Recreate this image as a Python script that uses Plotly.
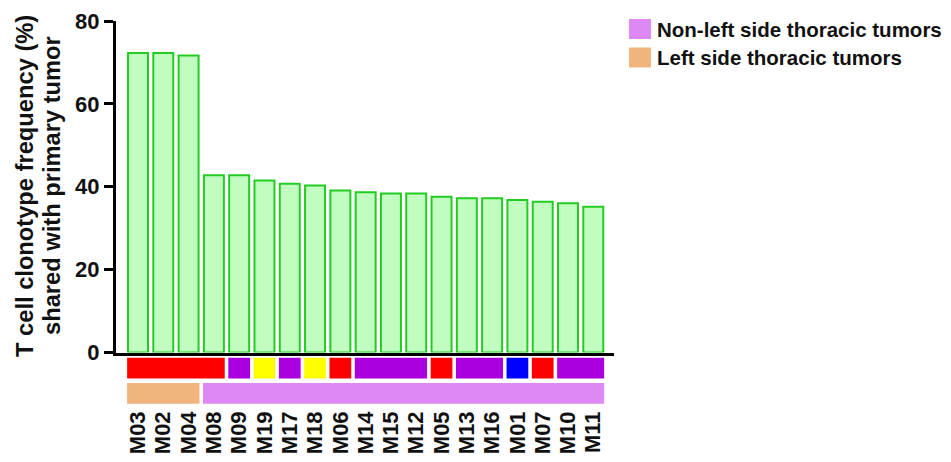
import plotly.graph_objects as go

# ---------------- data ----------------
samples = ["M03", "M02", "M04", "M08", "M09", "M19", "M17", "M18", "M06", "M14",
           "M15", "M12", "M05", "M13", "M16", "M01", "M07", "M10", "M11"]
shared_freq = [72.3, 72.3, 71.7, 42.8, 42.8, 41.5, 40.7, 40.3, 39.1, 38.7,
               38.4, 38.4, 37.6, 37.2, 37.2, 36.8, 36.4, 36.0, 35.2]
# top annotation row (sample group)
group_row = ["G1", "G1", "G1", "G1", "G2", "G3", "G2", "G3", "G1", "G2",
             "G2", "G2", "G1", "G2", "G2", "G4", "G1", "G2", "G2"]
# bottom annotation row (tumor location)
location_row = ["Left side thoracic tumors"] * 3 + ["Non-left side thoracic tumors"] * 16
legend_labels = ["Non-left side thoracic tumors", "Left side thoracic tumors"]
y_ticks = [0, 20, 40, 60, 80]

# ---------------- styles ----------------
group_colors = {"G1": "#ff0000", "G2": "#aa00dd", "G3": "#ffff00", "G4": "#0000ff"}
location_colors = {"Left side thoracic tumors": "#f0b47c",
                   "Non-left side thoracic tumors": "#dd88f5"}
FONT = "Liberation Sans, Arial, sans-serif"

OFF = 8  # page body margin
W, H = 951 - 2 * OFF, 462 - 2 * OFF
L, R_EDGE = 116 - OFF, 614 - OFF
T, B_EDGE = 21 - OFF, 406 - OFF
plot_h = B_EDGE - T
plot_w = R_EDGE - L
main_bottom_px = 352.5 - OFF
ann_top_px = 355.5 - OFF


def runs(vals):
    out = []
    start = 0
    for i in range(1, len(vals) + 1):
        if i == len(vals) or vals[i] != vals[start]:
            out.append((start, i - 1, vals[start]))
            start = i
    return out


fig = go.Figure()
idx = list(range(len(samples)))

fig.add_trace(go.Bar(
    x=idx, y=shared_freq, width=0.79,
    marker=dict(color="#c1fdc1", line=dict(color="#22cc22", width=2)),
    xaxis="x", yaxis="y", showlegend=False,
    hovertext=samples,
))

half = 0.43
for row_i, (vals, cmap) in enumerate([(location_row, location_colors), (group_row, group_colors)]):
    rr = runs(vals)
    xs = [(s + e) / 2 for s, e, _ in rr]
    ws = [(e - s) + 2 * half for s, e, _ in rr]
    cols = [cmap[v] for _, _, v in rr]
    fig.add_trace(go.Bar(
        x=xs, y=[0.82] * len(rr), base=[row_i + 0.09] * len(rr), width=ws,
        marker=dict(color=cols, line=dict(width=0)),
        xaxis="x2", yaxis="y2", showlegend=False,
        hovertext=[v for _, _, v in rr],
    ))

x_range = [(116 - 138) / 25.29, 18 + (614 - 593.3) / 25.29]

fig.update_layout(
    width=W, height=H,
    margin=dict(l=L, r=W - R_EDGE, t=T, b=H - B_EDGE, autoexpand=False),
    paper_bgcolor="white", plot_bgcolor="white",
    barmode="overlay",
    font=dict(family=FONT, color="#111111"),
    xaxis=dict(domain=[0, 1], range=x_range, anchor="y", showline=True, linecolor="#000000",
               linewidth=3, showticklabels=False, ticks="", showgrid=False, zeroline=False,
               fixedrange=True),
    yaxis=dict(domain=[(B_EDGE - main_bottom_px) / plot_h, 1], range=[0, 80], anchor="x",
               showline=True, linecolor="#000000", linewidth=3, ticks="outside", ticklen=9,
               tickwidth=3, tickcolor="#000000", tickvals=y_ticks, showgrid=False,
               zeroline=False, tickfont=dict(size=22, family=FONT, weight="bold", color="#111111")),
    xaxis2=dict(domain=[0, 1], matches="x", anchor="y2", showline=False, ticks="",
                tickvals=idx, ticktext=samples, tickangle=-90, showgrid=False, zeroline=False,
                tickfont=dict(size=22, family=FONT, weight="bold", color="#111111")),
    yaxis2=dict(domain=[0, (B_EDGE - ann_top_px) / plot_h], range=[0, 2], anchor="x2",
                showline=False, showticklabels=False, ticks="", showgrid=False, zeroline=False),
)


def px_x(p):
    return (p - OFF - L) / plot_w


def px_y(p):
    return (B_EDGE - (p - OFF)) / plot_h


# y-axis title as two rotated lines
for text, cx in [("T cell clonotype frequency (%)", 25), ("shared with primary tumor", 52)]:
    fig.add_annotation(text=text, xref="paper", yref="paper", x=px_x(cx), y=px_y(186),
                       xanchor="center", yanchor="middle", textangle=-90, showarrow=False,
                       font=dict(size=23.7, family=FONT, weight="bold", color="#111111"))

# legend
legend_colors = [location_colors[l] for l in legend_labels]
for i, (lab, col) in enumerate(zip(legend_labels, legend_colors)):
    top = 19 + i * 28.5
    fig.add_shape(type="rect", xref="paper", yref="paper",
                  x0=px_x(629), x1=px_x(651), y0=px_y(top + 20), y1=px_y(top),
                  fillcolor=col, line=dict(width=0))
    fig.add_annotation(text=lab, xref="paper", yref="paper", x=px_x(655), y=px_y(top + 10),
                       xanchor="left", yanchor="middle", showarrow=False,
                       font=dict(size=20.5, family=FONT, weight="bold", color="#111111"))

fig.write_html("out.html")
